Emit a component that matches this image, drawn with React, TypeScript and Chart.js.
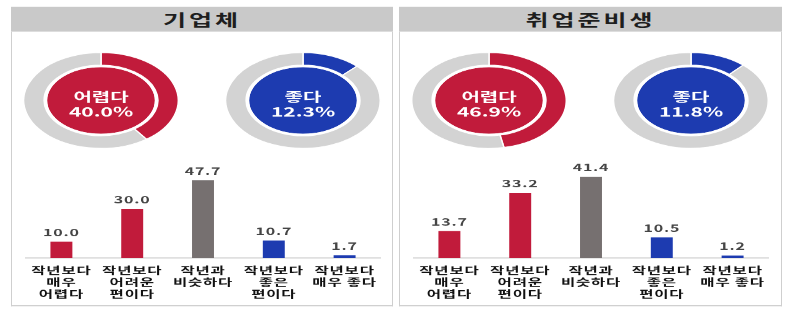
import React, { useEffect, useRef } from 'react';
import { Chart, registerables } from 'chart.js';

Chart.register(...registerables);

// ---- data ----
const panelTitles = ['기업체', '취업준비생'];
const donutLabels = ['어렵다', '좋다'];
const companyDonut = [40.0, 12.3];
const seekerDonut = [46.9, 11.8];
const barCategories = [
  ['작년보다', '매우', '어렵다'],
  ['작년보다', '어려운', '편이다'],
  ['작년과', '비슷하다'],
  ['작년보다', '좋은', '편이다'],
  ['작년보다', '매우 좋다'],
];
const companyBars = [10.0, 30.0, 47.7, 10.7, 1.7];
const seekerBars = [13.7, 33.2, 41.4, 10.5, 1.2];
const companyAxisMax = 60.8;
const seekerAxisMax = 50.6;

// ---- style ----
const SY = 0.62;
const VH = 316 / SY;
const FONT = '"Noto Sans CJK KR", "Noto Sans", sans-serif';
const RED = '#c11b3b';
const BLUE = '#1d3bb0';
const GRAY_BAR = '#767070';
const RING = '#d3d3d3';
const barColors = [RED, RED, GRAY_BAR, BLUE, BLUE];
const donutColors = [RED, BLUE];

type DonutProps = { value: number; label: string; color: string; cx: number; cy: number };

function Donut({ value, label, color, cx, cy }: DonutProps) {
  const ref = useRef<HTMLCanvasElement | null>(null);
  const SIZE = 156;
  useEffect(() => {
    const centerText = {
      id: 'centerText',
      afterDraw(chart: any) {
        const { ctx, chartArea } = chart;
        const x = (chartArea.left + chartArea.right) / 2;
        const y = (chartArea.top + chartArea.bottom) / 2;
        ctx.save();
        ctx.fillStyle = '#ffffff';
        ctx.textAlign = 'center';
        ctx.textBaseline = 'middle';
        ctx.font = `bold 20px ${FONT}`;
        ctx.fillText(label, x, y - 6);
        ctx.font = `bold 21px ${FONT}`;
        ctx.fillText(value.toFixed(1) + '%', x, y + 18);
        ctx.restore();
      },
    };
    const chart = new Chart(ref.current as HTMLCanvasElement, {
      type: 'doughnut',
      data: {
        labels: [label, ''],
        datasets: [
          { data: [value, 100 - value], backgroundColor: [color, RING], borderColor: '#ffffff', borderWidth: 1.5, weight: 20 } as any,
          { data: [1], backgroundColor: '#ffffff', borderWidth: 0, weight: 3 } as any,
          { data: [1], backgroundColor: color, borderWidth: 0, weight: 53 } as any,
        ],
      },
      options: {
        responsive: false,
        animation: false,
        events: [],
        cutout: 0,
        layout: { padding: 0 },
        plugins: { legend: { display: false }, tooltip: { enabled: false } },
      } as any,
      plugins: [centerText],
    });
    return () => chart.destroy();
  }, [value, label, color]);
  return (
    <canvas
      ref={ref}
      width={SIZE}
      height={SIZE}
      style={{ position: 'absolute', left: cx - SIZE / 2, top: cy - SIZE / 2 }}
    />
  );
}

type BarsProps = { values: number[]; max: number; left: number; width: number; padLeft: number; padRight: number };

function Bars({ values, max, left, width, padLeft, padRight }: BarsProps) {
  const ref = useRef<HTMLCanvasElement | null>(null);
  const HEIGHT = 240;
  useEffect(() => {
    const valueLabels = {
      id: 'valueLabels',
      afterDatasetsDraw(chart: any) {
        const { ctx } = chart;
        const meta = chart.getDatasetMeta(0);
        ctx.save();
        ctx.font = `bold 16px ${FONT}`;
        ctx.fillStyle = '#454545';
        ctx.textAlign = 'center';
        ctx.textBaseline = 'middle';
        meta.data.forEach((bar: any, i: number) => {
          const v = chart.data.datasets[0].data[i] as number;
          ctx.fillText(v.toFixed(1), bar.x, bar.y - 15);
        });
        ctx.restore();
      },
    };
    const spacing = {
      id: 'tickSpacing',
      beforeDraw(chart: any) {
        (chart.ctx as any).letterSpacing = '0.8px';
      },
      afterDraw(chart: any) {
        (chart.ctx as any).letterSpacing = '0px';
      },
    };
    const chart = new Chart(ref.current as HTMLCanvasElement, {
      type: 'bar',
      data: {
        labels: barCategories,
        datasets: [
          { data: values, backgroundColor: barColors, barPercentage: 0.31, categoryPercentage: 1, borderWidth: 0 },
        ],
      },
      options: {
        responsive: false,
        animation: false,
        events: [],
        layout: { padding: { left: padLeft, right: padRight, top: 0, bottom: 0 } },
        plugins: { legend: { display: false }, tooltip: { enabled: false } },
        scales: {
          x: {
            grid: { display: false, drawTicks: false },
            border: { display: true, color: '#d9d9d9', width: 2 },
            ticks: {
              color: '#111111',
              font: { family: FONT, size: 15.5, weight: 'bold', lineHeight: 1.25 },
              padding: 10,
              maxRotation: 0,
              autoSkip: false,
            },
            afterFit: (s: any) => {
              s.height = 80;
            },
          },
          y: { display: false, min: 0, max },
        },
      } as any,
      plugins: [spacing, valueLabels],
    });
    return () => chart.destroy();
  }, [values, max]);
  return (
    <canvas ref={ref} width={width} height={HEIGHT} style={{ position: 'absolute', left, top: 256 }} />
  );
}

type PanelProps = { title: string; x: number; w: number; donut: number[]; bars: number[]; max: number };

function Panel({ title, x, w, donut, bars, max }: PanelProps) {
  return (
    <>
      <div
        style={{
          position: 'absolute',
          left: x,
          top: 11,
          width: w,
          height: 40,
          background: '#c9c9c9',
          display: 'flex',
          alignItems: 'center',
          justifyContent: 'center',
          fontFamily: FONT,
          fontWeight: 700,
          fontSize: 25,
          color: '#1e1e1e',
          letterSpacing: 3,
        }}
      >
        {title}
      </div>
      <div
        style={{
          position: 'absolute',
          left: x,
          top: 51,
          width: w,
          height: 443,
          boxSizing: 'border-box',
          borderLeft: '1.5px solid #cfcfcf',
          borderRight: '1.5px solid #cfcfcf',
          borderBottom: '2.5px solid #cfcfcf',
        }}
      />
      <Donut value={donut[0]} label={donutLabels[0]} color={donutColors[0]} cx={x + 90} cy={162} />
      <Donut value={donut[1]} label={donutLabels[1]} color={donutColors[1]} cx={x + 292} cy={162} />
      <Bars values={bars} max={max} left={x} width={w} padLeft={15} padRight={w - 369} />
    </>
  );
}

export default function App() {
  return (
    <div
      style={{
        position: 'fixed',
        left: 0,
        top: 0,
        width: 789,
        height: 316,
        overflow: 'hidden',
        background: '#ffffff',
      }}
    >
      <div
        style={{
          position: 'absolute',
          left: 0,
          top: 0,
          width: 789,
          height: VH,
          transform: `scaleY(${SY})`,
          transformOrigin: '0 0',
        }}
      >
        <Panel title={panelTitles[0]} x={11} w={382} donut={companyDonut} bars={companyBars} max={companyAxisMax} />
        <Panel title={panelTitles[1]} x={399} w={383} donut={seekerDonut} bars={seekerBars} max={seekerAxisMax} />
      </div>
    </div>
  );
}
